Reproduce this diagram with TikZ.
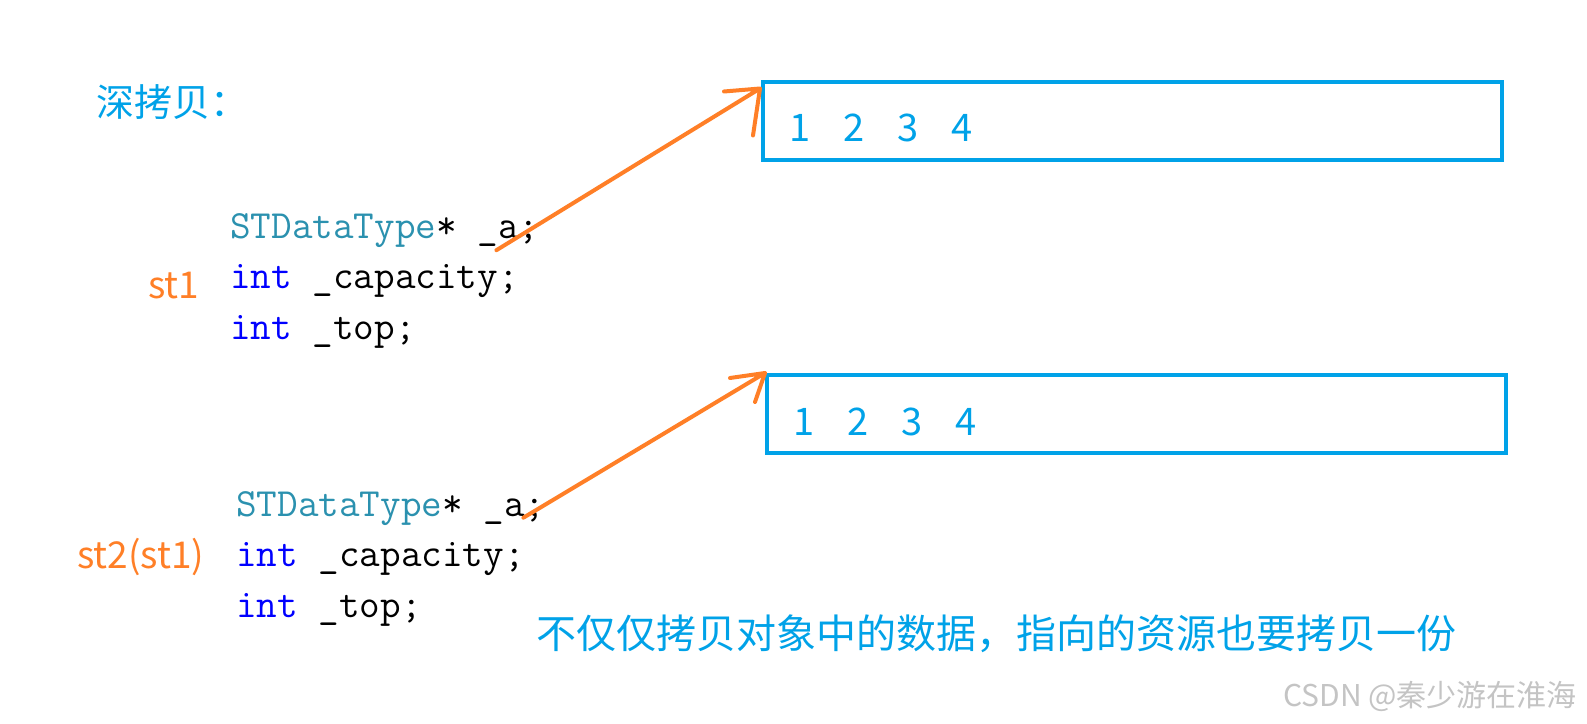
\documentclass[tikz,border=0pt]{standalone}
\usepackage{fontspec}
\setmainfont{Noto Sans CJK SC}
\usetikzlibrary{positioning}
\definecolor{paintblue}{RGB}{0,162,232}
\definecolor{paintorange}{RGB}{255,127,39}
\definecolor{typeteal}{RGB}{43,145,175}
\definecolor{kwblue}{RGB}{0,0,255}
\definecolor{markgray}{RGB}{196,196,196}
\newcommand{\ty}[1]{\textcolor{typeteal}{#1}}
\newcommand{\kw}[1]{\textcolor{kwblue}{#1}}
\tikzset{
	code/.style = {font=\ttfamily\fontsize{40}{40}\selectfont, inner sep=0pt, text height=28.5pt, text depth=9.5pt, anchor=west}, % one line of the struct
	obj/.style = {text=paintorange, font=\fontsize{37}{37}\selectfont, inner sep=0pt, anchor=base west},
	note/.style = {text=paintblue, font=\fontsize{38}{38}\selectfont, inner sep=0pt, anchor=base west},
	membox/.style = {draw=paintblue, line width=4pt, outer sep=0pt, minimum width=739pt, minimum height=78pt},
	digit/.style = {text=paintblue, font=\fontsize{38}{38}\selectfont, inner sep=0pt, anchor=base},
	pointer/.style = {draw=paintorange, line width=4pt, line cap=round, line join=round}
}
\begin{document}
\begin{tikzpicture}[x=1pt, y=-1pt]
            \useasboundingbox (0,0) rectangle (1587,723);
            \node[note] (title) at (96,116) {深拷贝：};
            % st1
            \node[code] (c1a) at (230,228.5) {\ty{STDataType}* \_a;};
            \node[code, below right=12.5pt and 0pt of c1a.south west] (c1b) {\kw{int} \_capacity;};
            \node[code, below right=12.5pt and 0pt of c1b.south west] (c1c) {\kw{int} \_top;};
            \node[obj] (st1) at (148,298) {st1};
            \node[membox] (box1) at (1132.5,120.5) {};
            \foreach \d [count=\i from 0] in {1,2,3,4}
                \node[digit] (b1n\d) at ([xshift={37+54*\i}, yshift=-21pt]box1.west) {\d};
            % st2(st1)
            \node[code] (c2a) at (236,506.5) {\ty{STDataType}* \_a;};
            \node[code, below right=12.5pt and 0pt of c2a.south west] (c2b) {\kw{int} \_capacity;};
            \node[code, below right=12.5pt and 0pt of c2b.south west] (c2c) {\kw{int} \_top;};
            \node[obj] (st2) at (77,568) {st2(st1)};
            \node[membox] (box2) at (1136.5,414) {};
            \foreach \d [count=\i from 0] in {1,2,3,4}
                \node[digit] (b2n\d) at ([xshift={37+54*\i}, yshift=-21pt]box2.west) {\d};
            % pointers
            \coordinate (tip1) at ([shift={(-3,7)}]box1.north west);
            \coordinate (tip2) at ([shift={(-2,-2)}]box2.north west);
            \draw[pointer] ([shift={(-43,2.5)}]c1a.south east) -- (tip1) -- ++(-36,3) (tip1) -- ++(-7,47);
            \draw[pointer] ([shift={(-22,-8)}]c2a.south east) -- (tip2) -- ++(-35,5) (tip2) -- ++(-10,29);
            \node[note, font=\fontsize{40}{40}\selectfont] (remark) at (536,648) {不仅仅拷贝对象中的数据，指向的资源也要拷贝一份};
            \node[text=markgray, font=\fontsize{30}{30}\selectfont, inner sep=0pt, anchor=base west] (mark) at (1283,706) {CSDN @秦少游在淮海};
        \end{tikzpicture}
\end{document}
